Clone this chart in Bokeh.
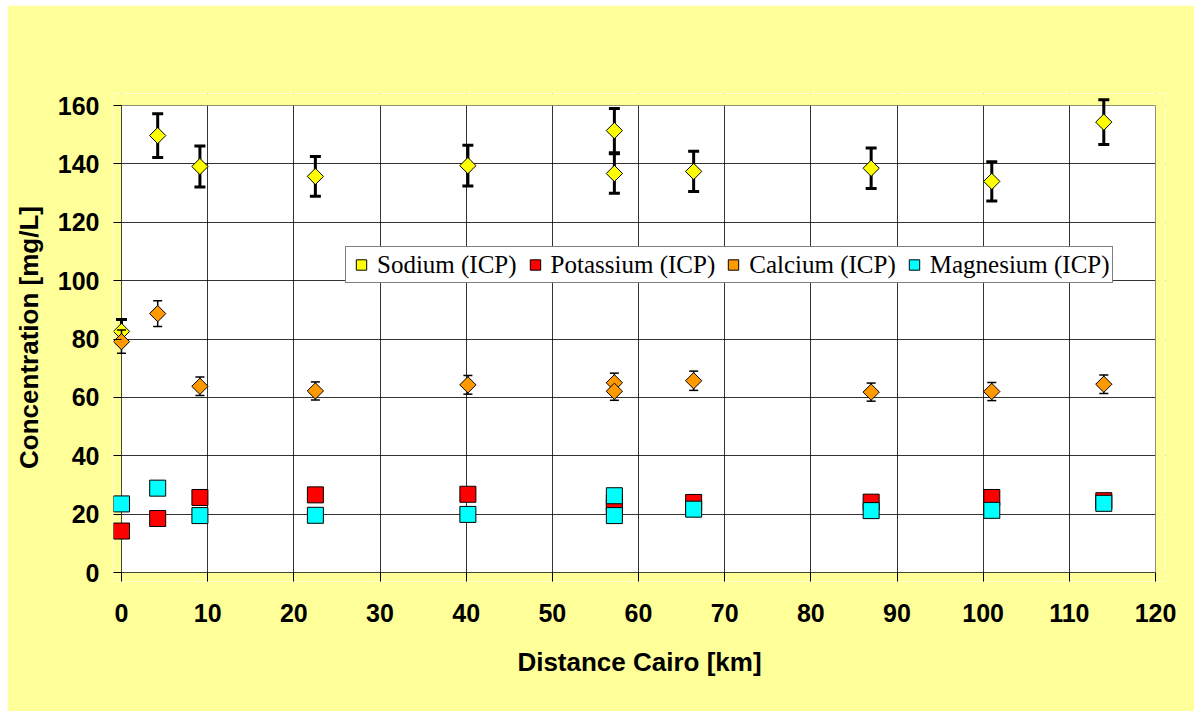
import math
from bokeh.plotting import figure
from bokeh.models import Range1d, FixedTicker, ColumnDataSource, BoxAnnotation
from bokeh.embed import file_html
from bokeh.resources import INLINE

# ---- data ----
dist = [0.0, 4.2, 9.1, 22.5, 40.2, 57.2, 57.2, 66.4, 87.0, 101.0, 114.0]
sodium = [82.6, 149.7, 139.1, 135.7, 139.4, 151.4, 136.7, 137.4, 138.5, 134.0, 154.3]
sodium_err = [4.1, 7.5, 7.0, 6.8, 7.0, 7.6, 6.8, 6.9, 6.9, 6.7, 7.7]
potassium = [14.2, 18.5, 25.7, 26.6, 26.8, 24.0, 22.5, 24.0, 24.1, 25.7, 24.6]
calcium = [79.1, 88.7, 63.8, 62.2, 64.3, 65.0, 62.1, 65.7, 61.8, 62.0, 64.5]
calcium_err = [4.0, 4.4, 3.2, 3.1, 3.2, 3.3, 3.1, 3.3, 3.1, 3.1, 3.2]
magnesium = [23.5, 28.9, 19.5, 19.6, 19.9, 26.3, 19.5, 21.7, 21.2, 21.3, 23.7]

x_ticks = [0, 10, 20, 30, 40, 50, 60, 70, 80, 90, 100, 110, 120]
y_ticks = [0, 20, 40, 60, 80, 100, 120, 140, 160]
X_MIN, X_MAX = 0, 120
Y_MIN, Y_MAX = 0, 160

src = ColumnDataSource(dict(
    x=dist,
    na=sodium,
    na_lo=[v - e for v, e in zip(sodium, sodium_err)],
    na_hi=[v + e for v, e in zip(sodium, sodium_err)],
    k=potassium,
    ca=calcium,
    ca_lo=[v - e for v, e in zip(calcium, calcium_err)],
    ca_hi=[v + e for v, e in zip(calcium, calcium_err)],
    mg=magnesium,
))

# data area is 1034 x 467 px; a small pad around it keeps edge markers unclipped
AREA_W, AREA_H = 1034, 467
PAD_L, PAD_R, PAD_T, PAD_B = 8, 10, 12, 9
px = (X_MAX - X_MIN) / AREA_W
py = (Y_MAX - Y_MIN) / AREA_H

YELLOW_BG = "#FFFF99"
p = figure(width=1187, height=706, margin=(5, 0, 0, 7),
           x_range=Range1d(X_MIN - PAD_L * px, X_MAX + PAD_R * px),
           y_range=Range1d(Y_MIN - PAD_B * py, Y_MAX + PAD_T * py),
           output_backend="svg", toolbar_location=None,
           min_border_left=114 - PAD_L, min_border_right=39 - PAD_R,
           min_border_top=100 - PAD_T, min_border_bottom=139 - PAD_B)
p.border_fill_color = YELLOW_BG
p.background_fill_color = "white"
p.outline_line_color = None

p.xaxis.ticker = FixedTicker(ticks=x_ticks)
p.yaxis.ticker = FixedTicker(ticks=y_ticks)
p.xaxis.bounds = (X_MIN, X_MAX)
p.yaxis.bounds = (Y_MIN, Y_MAX)
for ax in (p.xaxis, p.yaxis):
    ax.axis_line_color = None
    ax.major_tick_line_color = "black"
    ax.major_tick_out = 0
    ax.minor_tick_line_color = None
    ax.major_label_text_font = "Liberation Sans"
    ax.major_label_text_font_style = "bold"
    ax.major_label_text_font_size = "25px"
    ax.major_label_text_color = "black"
    ax.axis_label_text_font = "Liberation Sans"
    ax.axis_label_text_font_style = "bold"
    ax.axis_label_text_font_size = "26px"
    ax.axis_label_text_color = "black"
p.xaxis.major_tick_in = PAD_B
p.yaxis.major_tick_in = PAD_L
p.xaxis.major_label_standoff = 22
p.yaxis.major_label_standoff = 14
p.xaxis.axis_label = "Distance Cairo [km]"
p.yaxis.axis_label = "Concentration [mg/L]"
p.xaxis.axis_label_standoff = 22
p.yaxis.axis_label_standoff = 11

p.grid.grid_line_color = "#000000"
p.grid.grid_line_alpha = 0.8
p.grid.grid_line_width = 1

# yellow pads around the data area (hide grid overshoot), gray outline, black axis lines
for kw in (dict(right=X_MIN), dict(left=X_MAX), dict(top=Y_MIN), dict(bottom=Y_MAX)):
    p.add_layout(BoxAnnotation(fill_color=YELLOW_BG, fill_alpha=1, line_color=None,
                               level="underlay", **kw))
p.add_layout(BoxAnnotation(left=X_MIN, right=X_MAX, bottom=Y_MIN, top=Y_MAX,
                           fill_color=None, fill_alpha=0, line_color="#808080",
                           line_width=1, level="underlay"))
p.add_layout(BoxAnnotation(left=X_MIN, right=X_MIN, bottom=Y_MIN, top=Y_MAX,
                           fill_color=None, fill_alpha=0, line_color="black",
                           line_width=1, level="underlay"))
p.add_layout(BoxAnnotation(left=X_MIN, right=X_MAX, bottom=Y_MIN, top=Y_MIN,
                           fill_color=None, fill_alpha=0, line_color="black",
                           line_width=1, level="underlay"))

# sodium error bars + markers
p.segment(x0="x", y0="na_lo", x1="x", y1="na_hi", source=src, line_color="black", line_width=3)
p.scatter(x="x", y="na_hi", source=src, marker="dash", size=11, line_color="black", line_width=3)
p.scatter(x="x", y="na_lo", source=src, marker="dash", size=11, line_color="black", line_width=3)
p.scatter(x="x", y="na", source=src, marker="square", angle=math.pi / 4, size=11.5,
          fill_color="#FFFF00", line_color="black", line_width=1, legend_label="Sodium (ICP)")

# potassium
p.scatter(x="x", y="k", source=src, marker="square", size=16,
          fill_color="#FF0000", line_color="black", line_width=1, legend_label="Potassium (ICP)")

# calcium error bars + markers
p.segment(x0="x", y0="ca_lo", x1="x", y1="ca_hi", source=src, line_color="black", line_width=1.5)
p.scatter(x="x", y="ca_hi", source=src, marker="dash", size=9, line_color="black", line_width=1.5)
p.scatter(x="x", y="ca_lo", source=src, marker="dash", size=9, line_color="black", line_width=1.5)
p.scatter(x="x", y="ca", source=src, marker="square", angle=math.pi / 4, size=11.5,
          fill_color="#FF9900", line_color="black", line_width=1, legend_label="Calcium (ICP)")

# magnesium
p.scatter(x="x", y="mg", source=src, marker="square", size=16,
          fill_color="#00FFFF", line_color="black", line_width=1, legend_label="Magnesium (ICP)")

lg = p.legend[0]
lg.orientation = "horizontal"
lg.location = (224 + PAD_L, 289 + PAD_B)
lg.border_line_color = "black"
lg.border_line_width = 1
lg.background_fill_color = "white"
lg.background_fill_alpha = 1
lg.label_text_font = "Liberation Serif"
lg.label_text_font_size = "25px"
lg.label_text_color = "black"
lg.glyph_width = 26
lg.glyph_height = 31
lg.label_standoff = 3
lg.spacing = 5
lg.padding = 2
lg.margin = 0

open("out.html", "w").write(file_html(p, INLINE))
